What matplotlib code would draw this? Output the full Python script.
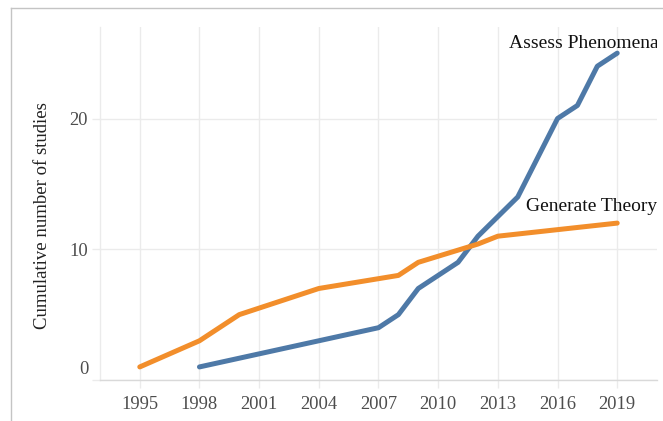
import matplotlib
matplotlib.use("Agg")
import matplotlib.pyplot as plt
from matplotlib.lines import Line2D
from matplotlib.transforms import ScaledTranslation

plt.rcParams['font.family'] = ['Liberation Serif', 'DejaVu Serif']

# Data
years_theory = [1995, 1998, 2000, 2004, 2008, 2009, 2012, 2013, 2019]
cum_theory = [1, 3, 5, 7, 8, 9, 10.4, 11, 12]

years_assess = [1998, 2007, 2008, 2009, 2011, 2012, 2014, 2015, 2016, 2017, 2018, 2019]
cum_assess = [1, 4, 5, 7, 9, 11, 14, 17, 20, 21, 24, 25]

xticks = [1995, 1998, 2001, 2004, 2007, 2010, 2013, 2016, 2019]
yticks = [0, 10, 20]
ylabel = "Cumulative number of studies"
label_assess = "Assess Phenomena"
label_theory = "Generate Theory"

blue = "#4e79a7"
orange = "#f28e2b"
grid_c = "#ebebeb"

W, H = 663, 421
fig = plt.figure(figsize=(W / 100, H / 100), dpi=100)
ax = fig.add_axes([100 / W, (H - 380) / H, 557 / W, 353 / H])

ax.plot(years_assess, cum_assess, color=blue, lw=3.6, solid_capstyle='round',
        solid_joinstyle='round', zorder=3)
ax.plot(years_theory, cum_theory, color=orange, lw=3.6, solid_capstyle='round',
        solid_joinstyle='round', zorder=3)

ax.set_xlim(1993, 2021)
ax.set_ylim(0, 27)
ax.set_xticks(xticks)
ax.set_yticks(yticks)
ax.set_xticklabels([str(t) for t in xticks])
ax.set_yticklabels([str(t) for t in yticks])

ax.grid(True, color=grid_c, lw=1.0, zorder=0)
for s in ['top', 'right']:
    ax.spines[s].set_visible(False)
ax.spines['left'].set_color(grid_c)
ax.spines['left'].set_linewidth(1.0)
ax.spines['bottom'].set_color("#d9d9d9")
ax.spines['bottom'].set_linestyle((0, (1, 1)))
ax.spines['bottom'].set_linewidth(1.0)

ax.tick_params(axis='both', colors=grid_c, length=5.5, width=1.0,
               labelcolor="#4d4d4d", labelsize=13.3)
ax.tick_params(axis='x', pad=6)
ax.tick_params(axis='y', pad=3)

# Shift the "0" label upward as in the reference
lab0 = ax.get_yticklabels()[0]
lab0.set_transform(lab0.get_transform() + ScaledTranslation(0, 12 / 100, fig.dpi_scale_trans))

ax.set_ylabel(ylabel, fontsize=13.5, color="#222222", va='center')
ax.yaxis.set_label_coords(-0.104, 0.467)

ax.text(2013.55, 25.75, label_assess, fontsize=14, color="#111111",
        ha='left', va='center', clip_on=True, zorder=4)
ax.text(2014.4, 13.3, label_theory, fontsize=14, color="#111111",
        ha='left', va='center', clip_on=True, zorder=4)

# Outer border (left and top edges)
bc = "#c4c4c4"
fig.add_artist(Line2D([11 / W, 11 / W], [0, 1 - 8 / H], transform=fig.transFigure,
                      color=bc, lw=1.0))
fig.add_artist(Line2D([11 / W, 1], [1 - 8 / H, 1 - 8 / H], transform=fig.transFigure,
                      color=bc, lw=1.0))

fig.savefig("out.png", dpi=100)
